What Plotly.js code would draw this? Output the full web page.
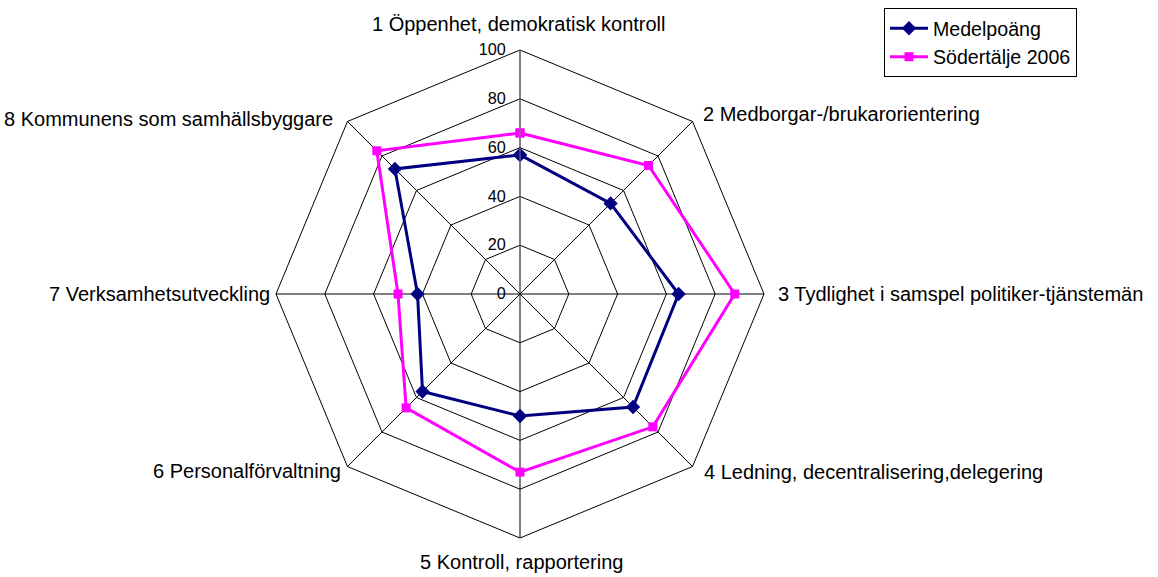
<!DOCTYPE html>
<html>
<head>
<meta charset="utf-8">
<script src="https://cdn.plot.ly/plotly-3.0.1.min.js"></script>
<style>html,body{margin:0;padding:0;background:#fff;}#chart{width:1158px;height:577px;}</style>
</head>
<body>
<div id="chart"></div>
<script>
const categories = [
  "1 Öppenhet, demokratisk kontroll",
  "2 Medborgar-/brukarorientering",
  "3 Tydlighet i samspel politiker-tjänstemän",
  "4 Ledning, decentralisering,delegering",
  "5 Kontroll, rapportering",
  "6 Personalförvaltning",
  "7 Verksamhetsutveckling",
  "8 Kommunens som samhällsbyggare"
];
const medelpoang = [57, 52.5, 65, 65.5, 50, 56.5, 42, 72.5];
const sodertalje2006 = [66, 74.5, 88, 77, 73, 66, 50, 83];
const radialTicks = [0, 20, 40, 60, 80, 100];

// label placement (pixels in the 1158x577 page): [x, y, anchor]
const labelPlacement = [
  [519, 24.5, 'center'],
  [701, 114, 'left'],
  [776, 294, 'left'],
  [702, 471.5, 'left'],
  [521, 562, 'center'],
  [343, 470.5, 'right'],
  [272, 294, 'right'],
  [335, 118.5, 'right']
];

const W = 1158, H = 577;
function closed(a){ return a.concat([a[0]]); }

const traces = [
  {
    type: 'scatterpolar', mode: 'lines+markers', name: 'Medelpoäng',
    r: closed(medelpoang), theta: closed(categories),
    line: {color: '#000080', width: 3},
    marker: {symbol: 'diamond', size: 11, color: '#000080'}
  },
  {
    type: 'scatterpolar', mode: 'lines+markers', name: 'Södertälje 2006',
    r: closed(sodertalje2006), theta: closed(categories),
    line: {color: '#FF00FF', width: 3},
    marker: {symbol: 'square', size: 9, color: '#FF00FF'}
  }
];

const annotations = categories.map((c, i) => ({
  text: c, showarrow: false, xref: 'paper', yref: 'paper',
  x: labelPlacement[i][0] / W, y: 1 - labelPlacement[i][1] / H,
  xanchor: labelPlacement[i][2], yanchor: 'middle',
  font: {size: 20, color: '#000'}
}));

const layout = {
  width: W, height: H,
  margin: {l: 0, r: 0, t: 0, b: 0},
  paper_bgcolor: '#fff', plot_bgcolor: '#fff',
  font: {family: 'Liberation Sans, Arial, sans-serif', color: '#000'},
  showlegend: true,
  legend: {
    x: 884/W, y: 1 - 8/H, xanchor: 'left', yanchor: 'top',
    bordercolor: '#000', borderwidth: 1, bgcolor: '#fff',
    font: {size: 19.6, color: '#000'}, tracegroupgap: 0, itemwidth: 38
  },
  annotations: annotations,
  polar: {
    domain: {x: [276/W, 764/W], y: [(H-538)/H, (H-50)/H]},
    gridshape: 'linear',
    bgcolor: '#fff',
    radialaxis: {
      range: [0, 100], tickvals: radialTicks, ticktext: radialTicks.map(String),
      angle: 90, side: 'counterclockwise', tickangle: 90,
      showline: true, linecolor: '#808080', linewidth: 1,
      gridcolor: '#000', gridwidth: 1,
      ticks: 'outside', ticklen: 8, tickcolor: 'rgba(0,0,0,0)',
      tickfont: {size: 16.2, color: '#000'}
    },
    angularaxis: {
      direction: 'clockwise', rotation: 90,
      gridcolor: '#000', gridwidth: 1,
      linecolor: '#000', linewidth: 1, showline: true,
      ticks: '', showticklabels: false
    }
  }
};

Plotly.newPlot('chart', traces, layout, {displayModeBar: false, staticPlot: true});
</script>
</body>
</html>
